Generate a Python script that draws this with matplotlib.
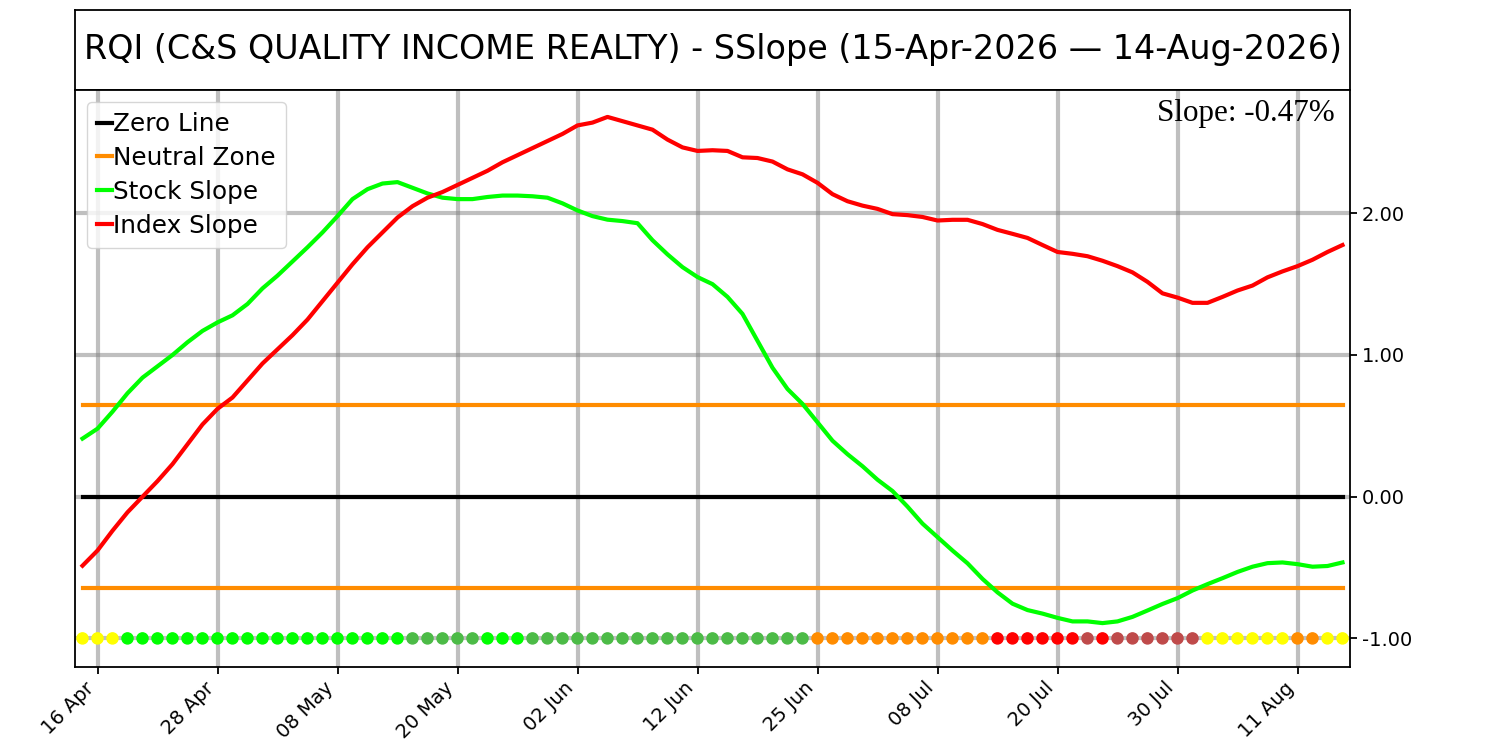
import numpy as np
import pandas as pd
import matplotlib
matplotlib.use('Agg')
import matplotlib.pyplot as plt
from matplotlib.ticker import FormatStrFormatter

TICKER = 'RQI'
NAME = 'C&S QUALITY INCOME REALTY'
START = '2026-04-15'
END = '2026-08-14'
HOLIDAYS = ['2026-05-25', '2026-06-19', '2026-07-03']
SLOPE_PCT = -0.47
NEUTRAL = 0.645

stock_slope = [
    0.41, 0.48, 0.60, 0.73, 0.84, 0.92, 1.00, 1.09, 1.17, 1.23,
    1.28, 1.36, 1.47, 1.56, 1.66, 1.76, 1.865, 1.98, 2.10, 2.17,
    2.21, 2.22, 2.18, 2.14, 2.11, 2.10, 2.10, 2.115, 2.125, 2.125,
    2.12, 2.11, 2.07, 2.02, 1.98, 1.955, 1.945, 1.93, 1.81, 1.71,
    1.62, 1.55, 1.50, 1.41, 1.29, 1.10, 0.91, 0.76, 0.655, 0.525,
    0.395, 0.30, 0.215, 0.12, 0.04, -0.07, -0.19, -0.285, -0.38, -0.47,
    -0.58, -0.675, -0.755, -0.80, -0.825, -0.855, -0.88, -0.88, -0.892, -0.88,
    -0.848, -0.803, -0.757, -0.716, -0.662, -0.617, -0.575, -0.531, -0.494, -0.469,
    -0.464, -0.476, -0.494, -0.489, -0.464,
]

index_slope = [
    -0.487, -0.38, -0.24, -0.11, 0.0, 0.11, 0.23, 0.37, 0.51, 0.62,
    0.70, 0.82, 0.94, 1.04, 1.14, 1.25, 1.38, 1.51, 1.64, 1.76,
    1.865, 1.97, 2.05, 2.11, 2.15, 2.20, 2.25, 2.30, 2.36, 2.41,
    2.46, 2.51, 2.56, 2.62, 2.64, 2.68, 2.65, 2.62, 2.59, 2.52,
    2.465, 2.44, 2.445, 2.44, 2.395, 2.39, 2.365, 2.31, 2.275, 2.215,
    2.135, 2.085, 2.054, 2.031, 1.994, 1.987, 1.974, 1.949, 1.954, 1.954,
    1.924, 1.883, 1.855, 1.826, 1.776, 1.727, 1.714, 1.697, 1.665, 1.627,
    1.583, 1.516, 1.435, 1.405, 1.368, 1.368, 1.41, 1.455, 1.49, 1.548,
    1.59, 1.627, 1.672, 1.727, 1.776,
]

# daily signal: Y yellow, G strong green, g green, O orange, R red, B weak red
signals = ('YYY' + 'G' * 19 + 'g' * 5 + 'GGG' + 'g' * 19 + 'O' * 12 +
           'R' * 6 + 'B' + 'R' + 'B' * 6 + 'Y' * 6 + 'OO' + 'YY')

SIGNAL_COLORS = {
    'Y': '#FFFF00',
    'G': '#00FF00',
    'g': '#4CBB47',
    'O': '#FF8C00',
    'R': '#FF0000',
    'B': '#BF4A4A',
}

dates = pd.bdate_range(START, END, freq='C', holidays=HOLIDAYS)
x = np.arange(len(dates))
tick_pos = x[1::8]
tick_labels = [d.strftime('%d %b') for d in dates[1::8]]

fig = plt.figure(figsize=(15, 7.5), dpi=100)

# title box
title_ax = fig.add_axes([0.05, 0.88, 0.85, 0.1067])
title_ax.set_xticks([])
title_ax.set_yticks([])
for s in title_ax.spines.values():
    s.set_linewidth(1.3)
title = '%s (%s) - SSlope (%s \u2014 %s)' % (
    TICKER, NAME, dates[0].strftime('%d-%b-%Y'), dates[-1].strftime('%d-%b-%Y'))
title_ax.text(0.5, 0.5, title, ha='center', va='center', fontsize=24)

ax = fig.add_axes([0.05, 0.111, 0.85, 0.769])
ax.set_axisbelow(True)
ax.grid(True, color='gray', alpha=0.5, linewidth=3)

ax.plot(x, np.zeros(len(x)), color='black', lw=3, label='Zero Line')
ax.plot(x, np.full(len(x), NEUTRAL), color='#FF8C00', lw=3, label='Neutral Zone')
ax.plot(x, np.full(len(x), -NEUTRAL), color='#FF8C00', lw=3)
ax.plot(x, stock_slope, color='#00FF00', lw=3, label='Stock Slope')
ax.plot(x, index_slope, color='#FF0000', lw=3, label='Index Slope')
ax.scatter(x, np.full(len(x), -1.0), c=[SIGNAL_COLORS[s] for s in signals],
           s=64, zorder=3)

ax.set_xlim(-0.5, len(x) - 0.5)
ax.set_ylim(-1.2, 2.87)
ax.yaxis.tick_right()
ax.set_yticks([-1, 0, 1, 2])
ax.yaxis.set_major_formatter(FormatStrFormatter('%.2f'))
ax.set_xticks(tick_pos)
ax.set_xticklabels(tick_labels, rotation=45, ha='right')
ax.tick_params(labelsize=14, width=1.3, length=5)
for s in ax.spines.values():
    s.set_linewidth(1.3)

ax.legend(loc='upper left', fontsize=17.8, handlelength=0.6, handletextpad=0.05,
          labelspacing=0.4)
ax.text(0.988, 0.985, 'Slope: %.2f%%' % SLOPE_PCT, transform=ax.transAxes,
        ha='right', va='top', fontsize=22.4, family='Liberation Serif')

fig.savefig('out.png', dpi=100)
